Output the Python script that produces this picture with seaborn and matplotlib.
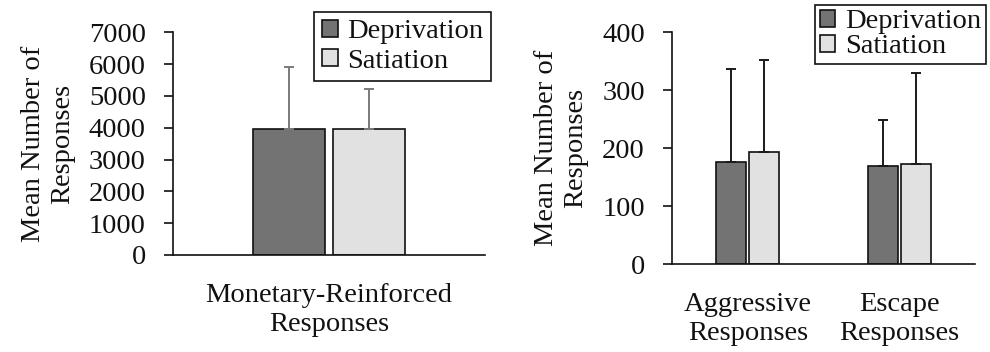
import matplotlib
matplotlib.use('Agg')
import matplotlib.pyplot as plt
import pandas as pd
import seaborn as sns

# values
conditions = ['Deprivation', 'Satiation']
colors = ['#737373', '#e1e1e1']

money_cats = ['Monetary-Reinforced\nResponses']
money_mean = [3970, 3960]
money_sd = [1930, 1250]

other_cats = ['Aggressive\nResponses', 'Escape\nResponses']
other_mean = {'Deprivation': [176, 169], 'Satiation': [193, 172]}
other_sd = {'Deprivation': [161, 80], 'Satiation': [159, 158]}

sns.set_theme(style='ticks')
plt.rcParams['font.family'] = ['Liberation Serif', 'DejaVu Serif']
plt.rcParams['font.size'] = 20.5
plt.rcParams['text.color'] = '#111111'
plt.rcParams['axes.labelcolor'] = '#111111'
plt.rcParams['xtick.color'] = '#111111'
plt.rcParams['ytick.color'] = '#111111'
plt.rcParams['axes.edgecolor'] = '#111111'
FS = 20.5

money = pd.DataFrame({'cat': money_cats * 2, 'cond': conditions,
                      'mean': money_mean, 'sd': money_sd})
rows = []
for c in conditions:
    for i, cat in enumerate(other_cats):
        rows.append({'cat': cat, 'cond': c, 'mean': other_mean[c][i], 'sd': other_sd[c][i]})
other = pd.DataFrame(rows)

fig = plt.figure(figsize=(9.9, 3.52), dpi=100)
ax1 = fig.add_axes([0.1747, 0.2756, 0.3152, 0.6326])
ax2 = fig.add_axes([0.6788, 0.25, 0.306, 0.659])


def draw(ax, df, width, gap, ecolor, ylim, yticks, ncat):
    sns.barplot(data=df, x='cat', y='mean', hue='cond', hue_order=conditions,
                palette=colors, width=width, gap=gap, errorbar=None,
                edgecolor='#111111', linewidth=1.2, ax=ax, legend=False)
    for cont, c in zip(ax.containers, conditions):
        sub = df[df['cond'] == c]
        xs = [p.get_x() + p.get_width() / 2 for p in cont.patches]
        ax.errorbar(xs, sub['mean'], yerr=[[0] * len(sub), sub['sd']], fmt='none',
                    ecolor=ecolor, elinewidth=1.4, capsize=3.8, capthick=1.4, zorder=1)
    ax.set_xlim(-0.5, ncat - 0.5)
    ax.set_ylim(*ylim)
    ax.set_yticks(yticks)
    ax.set_xlabel('')
    ax.set_ylabel('Mean Number of\nResponses', fontsize=FS, labelpad=10)
    sns.despine(ax=ax)
    ax.spines['left'].set_linewidth(1.2)
    ax.spines['bottom'].set_linewidth(1.2)
    ax.tick_params(axis='y', length=6.5, width=1.2, pad=13, labelsize=FS)
    ax.tick_params(axis='x', length=0, pad=20, labelsize=FS)


draw(ax1, money, 0.513, 0.11, '#7a7a7a', (0, 7000), range(0, 7001, 1000), 1)
draw(ax2, other, 0.44, 0.1, '#1a1a1a', (0, 400), range(0, 401, 100), 2)

handles = [plt.Rectangle((0, 0), 1, 1, facecolor=col, edgecolor='#111111', linewidth=1.2)
           for col in colors]
for anchor, ls, bp in [((0.496, 0.966), 0.15, 0.26), ((0.996, 0.986), 0.0, 0.16)]:
    leg = fig.legend(handles, conditions, loc='upper right', bbox_to_anchor=anchor,
                     frameon=True, fancybox=False, edgecolor='#111111', framealpha=1,
                     handlelength=0.55, handleheight=0.55, handletextpad=0.35,
                     labelspacing=ls, borderpad=bp, borderaxespad=0, fontsize=FS)
    leg.get_frame().set_linewidth(1.2)

fig.savefig('out.png', dpi=100)
